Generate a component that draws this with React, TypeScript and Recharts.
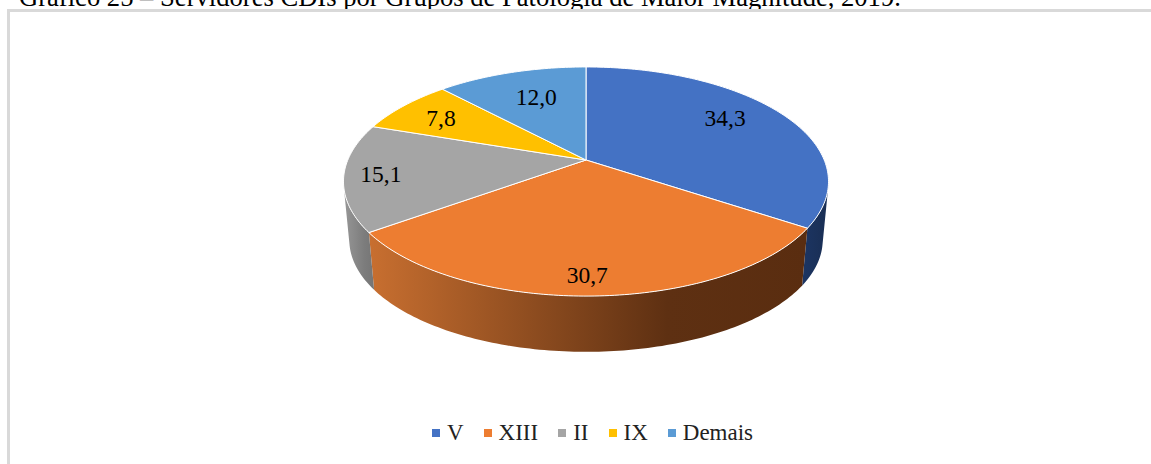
import React from "react";
import { Legend, Pie, PieChart } from "recharts";

const categories = ["V", "XIII", "II", "IX", "Demais"];
const values = [34.3, 30.7, 15.1, 7.8, 12.0];
const valueLabels = ["34,3", "30,7", "15,1", "7,8", "12,0"];

const topColors = ["#4472c4", "#ed7d31", "#a5a5a5", "#ffc000", "#5b9bd5"];
// wall shading runs left to right across each slice
const wallFrom = ["#1c3563", "#c86f30", "#979797", "#a37a00", "#3a6a99"];
const wallMid = ["#1a3058", "#5e3012", "#7c7c7c", "#a37a00", "#3a6a99"];
const wallTo = ["#1a2f55", "#5a2d10", "#757575", "#a37a00", "#3a6a99"];
// where each value label sits: fraction of the radius, and a small turn off the slice middle
const labelRadius = [0.75, 0.87, 0.85, 0.77, 0.68];
const labelTurn = [4.8, -0.8, 0, 1, -1.5];

const rows = categories.map((name, i) => ({ name, value: values[i], fill: topColors[i] }));

const WIDTH = 1151;
const HEIGHT = 464;
const FONT = '"Liberation Serif", serif';

// Flat circle -> tilted disc, with perspective so the near edge looks bigger
const PERSPECTIVE = 0.1878;
const TILT = 0.464;
const DEPTH = 59;
const FAR_SCALE = 0.976;

function project(cx: number, cy: number, r: number, angle: number, frac = 1) {
  const rad = (angle * Math.PI) / 180;
  const u = Math.cos(rad) * frac;
  const v = -Math.sin(rad) * frac;
  const s = 1 / (1 - PERSPECTIVE * v);
  return { x: cx + r * u * s, y: cy + r * TILT * v * s };
}

function lower(p: { x: number; y: number }, cx: number, cy: number) {
  return { x: cx + (p.x - cx) * FAR_SCALE, y: cy + (p.y - cy) * FAR_SCALE + DEPTH };
}

function arcPoints(props: any) {
  const { cx, cy, outerRadius, startAngle, endAngle } = props;
  const steps = Math.max(2, Math.ceil(Math.abs(endAngle - startAngle)));
  const pts = [];
  for (let i = 0; i <= steps; i++) {
    pts.push(project(cx, cy, outerRadius, startAngle + ((endAngle - startAngle) * i) / steps));
  }
  return pts;
}

const toPath = (pts: { x: number; y: number }[]) =>
  pts.map((p, i) => `${i ? "L" : "M"}${p.x.toFixed(2)} ${p.y.toFixed(2)}`).join(" ");

function TopSlice(props: any) {
  const pts = arcPoints(props);
  const d = `M${props.cx} ${props.cy} ${toPath(pts).replace("M", "L")} Z`;
  return <path d={d} fill={props.fill} stroke="#fff" strokeWidth={1} strokeLinejoin="round" />;
}

function WallSlice(props: any) {
  const { cx, cy, index } = props;
  const arc = arcPoints(props);
  // keep only the part of the rim that faces the viewer, otherwise the strip folds over itself
  const pts = arc.filter((p, i) => {
    const next = arc[i + 1] || p;
    const prev = arc[i - 1] || p;
    const low = lower(p, cx, cy);
    return (next.x - prev.x) * (low.y - p.y) - (next.y - prev.y) * (low.x - p.x) < 0;
  });
  if (pts.length < 2) return <g />;
  const bottom = pts.map((p) => lower(p, cx, cy)).reverse();
  const id = `wall-${index}`;
  return (
    <g>
      <defs>
        <linearGradient id={id} x1="0" y1="0" x2="1" y2="0">
          <stop offset="0%" stopColor={wallFrom[index]} />
          <stop offset="68%" stopColor={wallMid[index]} />
          <stop offset="100%" stopColor={wallTo[index]} />
        </linearGradient>
      </defs>
      <path d={`${toPath(pts)} ${toPath(bottom).replace("M", "L")} Z`} fill={`url(#${id})`} />
    </g>
  );
}

function renderValueLabel(props: any) {
  const { cx, cy, outerRadius, midAngle, index } = props;
  const p = project(cx, cy, outerRadius, midAngle + labelTurn[index], labelRadius[index]);
  return (
    <text
      key={index}
      x={p.x}
      y={p.y}
      textAnchor="middle"
      dominantBaseline="central"
      fontFamily={FONT}
      fontSize={23.5}
      fill="#000"
    >
      {valueLabels[index]}
    </text>
  );
}

function LegendRow({ payload }: any) {
  // both Pie layers report their slices, so show each category once
  const items = categories.map((name) => (payload || []).find((p: any) => p.value === name)).filter(Boolean);
  return (
    <div style={{ display: "flex", justifyContent: "center", alignItems: "center", fontFamily: FONT, fontSize: 23, color: "#222" }}>
      {items.map((item: any, i: number) => (
        <div key={i} style={{ display: "flex", alignItems: "center", marginRight: i < items.length - 1 ? 20 : 0 }}>
          <span style={{ width: 8, height: 8, background: item.color, marginRight: 7 }} />
          <span>{item.value}</span>
        </div>
      ))}
    </div>
  );
}

export default function App() {
  return (
    <div style={{ position: "absolute", left: 0, top: 0, width: WIDTH, height: HEIGHT, overflow: "hidden", background: "#fff" }}>
      <div
        style={{
          position: "absolute",
          left: 19,
          top: -18,
          whiteSpace: "nowrap",
          fontFamily: FONT,
          fontSize: 26.6,
          color: "#000",
        }}
      >
        Gráfico 25 – Servidores CDIs por Grupos de Patologia de Maior Magnitude, 2019.
      </div>
      <div
        style={{
          position: "absolute",
          left: 7,
          top: 9,
          width: WIDTH,
          height: HEIGHT,
          borderLeft: "3px solid #d9d9d9",
          borderTop: "3px solid #d9d9d9",
        }}
      />
      <div style={{ position: "absolute", left: 0, top: 0 }}>
        <PieChart width={WIDTH} height={HEIGHT} margin={{ top: 0, right: 0, bottom: 0, left: 0 }}>
          <Pie
            data={rows}
            dataKey="value"
            nameKey="name"
            cx={586}
            cy={160}
            outerRadius={238.2}
            startAngle={90}
            endAngle={-270}
            stroke="none"
            shape={WallSlice}
            isAnimationActive={false}
          />
          <Pie
            data={rows}
            dataKey="value"
            nameKey="name"
            cx={586}
            cy={160}
            outerRadius={238.2}
            startAngle={90}
            endAngle={-270}
            shape={TopSlice}
            label={renderValueLabel}
            labelLine={false}
            isAnimationActive={false}
          />
          <Legend
            content={<LegendRow />}
            itemSorter={null}
            wrapperStyle={{ left: 21, width: WIDTH - 8, top: 420 }}
          />
        </PieChart>
      </div>
    </div>
  );
}
